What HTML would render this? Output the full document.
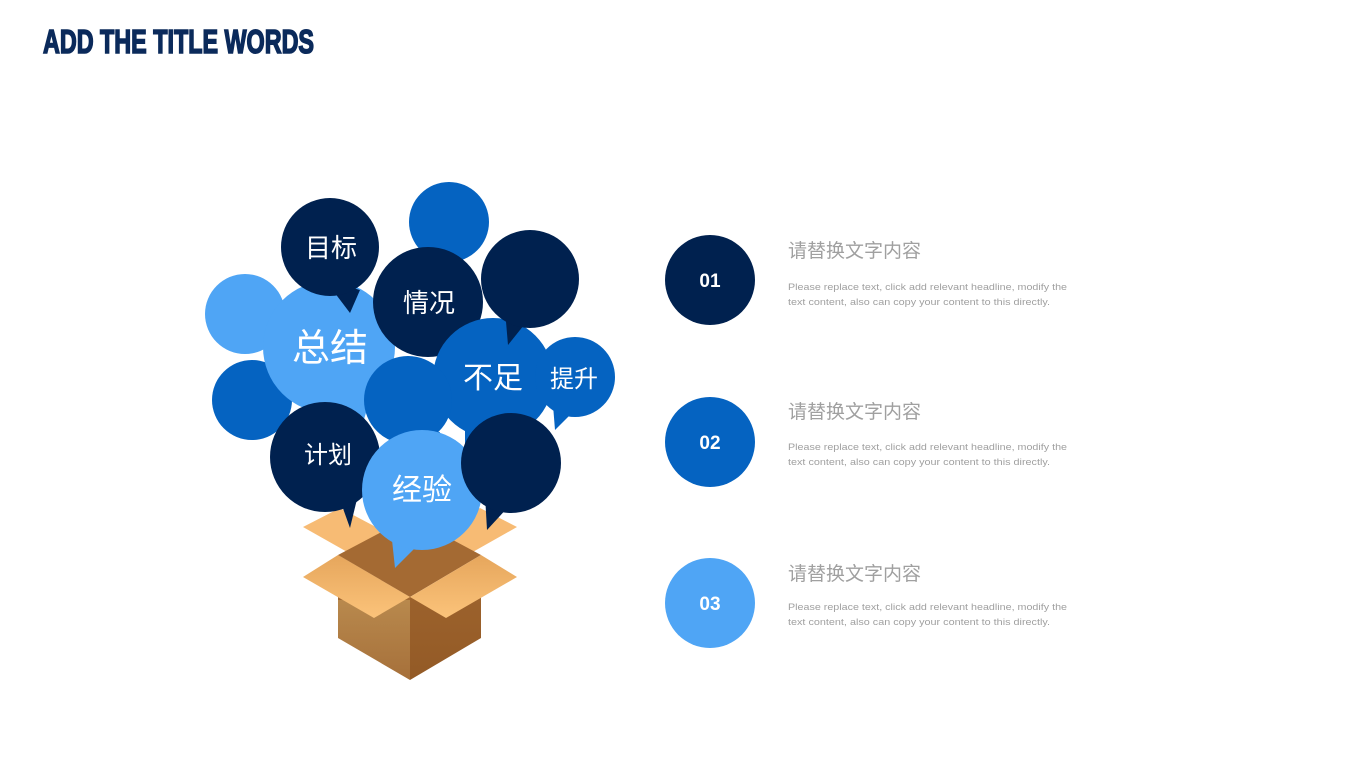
<!DOCTYPE html>
<html><head><meta charset="utf-8"><style>
html,body{margin:0;padding:0;background:#fff;}
body{width:1350px;height:759px;overflow:hidden;}
</style></head><body>
<svg width="1350" height="759" viewBox="0 0 1350 759" xmlns="http://www.w3.org/2000/svg">
<defs>
<linearGradient id="fl" x1="0" y1="0" x2="0" y2="1"><stop offset="0" stop-color="#b98a4e"/><stop offset="1" stop-color="#a6703a"/></linearGradient>
<linearGradient id="fr" x1="0" y1="0" x2="0" y2="1"><stop offset="0" stop-color="#9c622c"/><stop offset="1" stop-color="#935a26"/></linearGradient>
<linearGradient id="fp" x1="0" y1="0" x2="0" y2="1"><stop offset="0" stop-color="#e6a65c"/><stop offset="1" stop-color="#fbc37a"/></linearGradient>
</defs>
<text x="43" y="53" font-family="'Liberation Sans Narrow','Liberation Sans',sans-serif" font-weight="bold" font-size="33" fill="#0b2a5b" stroke="#0b2a5b" stroke-width="1.6" textLength="271" lengthAdjust="spacingAndGlyphs">ADD THE TITLE WORDS</text>

<polygon points="303,527 340,508 410,545 372,566" fill="#f7bb74"/>
<polygon points="517,527 480,508 410,545 448,566" fill="#f7bb74"/>
<polygon points="338,555 410,517 481,555 410,597" fill="#a46a33"/>

<g font-family="'Liberation Sans','Noto Sans CJK SC',sans-serif" fill="#fff" text-anchor="middle">
<circle cx="245" cy="314" r="40" fill="#4fa5f5"/>
<circle cx="252" cy="400" r="40" fill="#0563c1"/>
<circle cx="449" cy="222" r="40" fill="#0563c1"/>
<polygon points="340,400 370,400 360,432" fill="#4fa5f5"/><circle cx="329" cy="347" r="66" fill="#4fa5f5"/>
<polygon points="325,280 360,290 350,313" fill="#00214f"/><circle cx="330" cy="247" r="49" fill="#00214f"/>
<text x="331" y="257" font-size="26">目标</text>
<text x="330" y="361" font-size="38">总结</text>
<circle cx="428" cy="302" r="55" fill="#00214f"/>
<text x="429" y="312" font-size="26">情况</text>
<polygon points="465,420 490,430 465,462" fill="#0563c1"/><circle cx="493" cy="378" r="60" fill="#0563c1"/>
<polygon points="505,310 528,320 508,345" fill="#00214f"/><circle cx="530" cy="279" r="49" fill="#00214f"/>
<polygon points="420,430 440,432 430,460" fill="#0563c1"/><circle cx="408" cy="400" r="44" fill="#0563c1"/>
<text x="493" y="388" font-size="30">不足</text>
<polygon points="553,405 575,410 555,430" fill="#0563c1"/><circle cx="575" cy="377" r="40" fill="#0563c1"/>
<text x="574" y="387" font-size="24">提升</text>
<polygon points="340,500 358,495 350,528" fill="#00214f"/><circle cx="325" cy="457" r="55" fill="#00214f"/>
<text x="328" y="463" font-size="24">计划</text>
<polygon points="392,540 418,545 395,568" fill="#4fa5f5"/><circle cx="422" cy="490" r="60" fill="#4fa5f5"/>
<text x="422" y="500" font-size="30">经验</text>
<polygon points="485,495 510,505 487,530" fill="#00214f"/><circle cx="511" cy="463" r="50" fill="#00214f"/>
</g>

<polygon points="338,597 410,597 410,680 338,638" fill="url(#fl)"/>
<polygon points="410,597 481,597 481,638 410,680" fill="url(#fr)"/>
<polygon points="338,555 410,597 410,600 338,600" fill="#a46a33"/>
<polygon points="303,577 338,555 410,597 374,618" fill="url(#fp)"/>
<polygon points="517,577 481,555 410,597 446,618" fill="url(#fp)"/>

<g font-family="'Liberation Sans','Noto Sans CJK SC',sans-serif">
<circle cx="710" cy="280" r="45" fill="#00214f"/>
<text x="710" y="287" font-size="19" font-weight="bold" fill="#fff" text-anchor="middle">01</text>
<circle cx="710" cy="442" r="45" fill="#0563c1"/>
<text x="710" y="449" font-size="19" font-weight="bold" fill="#fff" text-anchor="middle">02</text>
<circle cx="710" cy="603" r="45" fill="#4fa5f5"/>
<text x="710" y="610" font-size="19" font-weight="bold" fill="#fff" text-anchor="middle">03</text>
<g fill="#a0a0a0">
<text x="788" y="257" font-size="19">请替换文字内容</text>
<text x="788" y="290" font-size="9.5" textLength="279" lengthAdjust="spacingAndGlyphs">Please  replace text, click add relevant headline,  modify the</text>
<text x="788" y="305" font-size="9.5" textLength="262" lengthAdjust="spacingAndGlyphs">text content, also can copy your content to this directly.</text>
<text x="788" y="418" font-size="19">请替换文字内容</text>
<text x="788" y="450" font-size="9.5" textLength="279" lengthAdjust="spacingAndGlyphs">Please  replace text, click add relevant headline,  modify the</text>
<text x="788" y="465" font-size="9.5" textLength="262" lengthAdjust="spacingAndGlyphs">text content, also can copy your content to this directly.</text>
<text x="788" y="580" font-size="19">请替换文字内容</text>
<text x="788" y="610" font-size="9.5" textLength="279" lengthAdjust="spacingAndGlyphs">Please  replace text, click add relevant headline,  modify the</text>
<text x="788" y="625" font-size="9.5" textLength="262" lengthAdjust="spacingAndGlyphs">text content, also can copy your content to this directly.</text>
</g>
</g>
</svg>
</body></html>
